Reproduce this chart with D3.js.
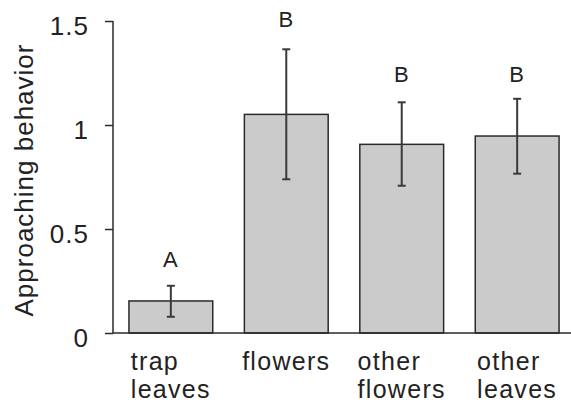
<!DOCTYPE html>
<html>
<head>
<meta charset="utf-8">
<script src="https://cdn.jsdelivr.net/npm/d3@7"></script>
<style>
  body { margin: 0; background: #fff; }
  text { font-family: "Liberation Sans", Arial, Helvetica, sans-serif; fill: #222; }
</style>
</head>
<body>
<div id="chart"></div>
<script>
'use strict';

// Data
let categories = [['trap', 'leaves'], ['flowers'], ['other', 'flowers'], ['other', 'leaves']];
let means = [0.154, 1.051, 0.907, 0.947];
let errLow = [0.078, 0.739, 0.708, 0.766];
let errHigh = [0.227, 1.364, 1.109, 1.126];
let sigLetters = ['A', 'B', 'B', 'B'];
let sigLevels = [0.317, 1.473, 1.207, 1.207];
let yTicks = [0, 0.5, 1, 1.5];
let yTitle = 'Approaching behavior';

// Formatting
let width = 571;
let height = 408;
let axisX = 113;
let barFill = '#cbcbcb';
let inkColor = '#2a2a2a';
let capHalf = 4;

let svg = d3.select('#chart').append('svg')
  .attr('width', width)
  .attr('height', height);

let idx = d3.range(categories.length);

let xScale = d3.scaleBand()
  .domain(idx)
  .range([axisX, 575])
  .paddingInner(0.274)
  .paddingOuter(0.138);

let yScale = d3.scaleLinear()
  .domain([0, 1.5])
  .range([333, 21]);

// Bars
svg.selectAll('rect.bar')
  .data(idx)
  .enter()
  .append('rect')
  .attr('class', 'bar')
  .attr('x', (i) => xScale(i))
  .attr('y', (i) => yScale(means[i]))
  .attr('width', xScale.bandwidth())
  .attr('height', (i) => yScale(0) - yScale(means[i]))
  .style('fill', barFill)
  .style('stroke', inkColor)
  .style('stroke-width', 1.5);

// Error bars
let cx = (i) => xScale(i) + xScale.bandwidth() / 2;
let errs = svg.append('g').attr('class', 'errors')
  .style('stroke', '#3a3a3a')
  .style('stroke-width', 2);

errs.selectAll('line.stem')
  .data(idx).enter().append('line')
  .attr('x1', cx).attr('x2', cx)
  .attr('y1', (i) => yScale(errLow[i]))
  .attr('y2', (i) => yScale(errHigh[i]));

errs.selectAll('line.capTop')
  .data(idx).enter().append('line')
  .attr('x1', (i) => cx(i) - capHalf).attr('x2', (i) => cx(i) + capHalf)
  .attr('y1', (i) => yScale(errHigh[i]))
  .attr('y2', (i) => yScale(errHigh[i]));

errs.selectAll('line.capBottom')
  .data(idx).enter().append('line')
  .attr('x1', (i) => cx(i) - capHalf).attr('x2', (i) => cx(i) + capHalf)
  .attr('y1', (i) => yScale(errLow[i]))
  .attr('y2', (i) => yScale(errLow[i]));

// Significance letters
svg.selectAll('text.sig')
  .data(idx).enter().append('text')
  .attr('class', 'sig')
  .attr('x', cx)
  .attr('y', (i) => yScale(sigLevels[i]))
  .attr('text-anchor', 'middle')
  .style('font-size', '22px')
  .style('letter-spacing', '1px')
  .text((i) => sigLetters[i]);

// Y axis
let yAxis = d3.axisLeft(yScale)
  .tickValues(yTicks)
  .tickFormat((d) => d3.format('')(d))
  .tickSize(8)
  .tickPadding(16);

let yAxisG = svg.append('g')
  .attr('transform', `translate(${axisX},0)`)
  .call(yAxis);

yAxisG.select('.domain').remove();
yAxisG.append('line')
  .attr('x1', 0).attr('x2', 0)
  .attr('y1', yScale(1.5)).attr('y2', yScale(0))
  .style('stroke', inkColor).style('stroke-width', 1.5);
yAxisG.selectAll('.tick line').style('stroke', inkColor).style('stroke-width', 1.5);
yAxisG.selectAll('.tick text')
  .attr('dy', '0.5em')
  .style('font-size', '26px')
  .style('letter-spacing', '1px')
  .style('font-family', '"Liberation Sans", Arial, sans-serif')
  .style('fill', '#222');

// X baseline
svg.append('line')
  .attr('x1', axisX).attr('x2', width)
  .attr('y1', yScale(0)).attr('y2', yScale(0))
  .style('stroke', inkColor).style('stroke-width', 1.5);

// Category labels (left-aligned blocks, centred on widest line)
idx.forEach((i) => {
  let label = svg.append('text')
    .attr('y', yScale(0) + 37)
    .style('font-size', '25px')
    .style('letter-spacing', '1.3px');
  let spans = categories[i].map((s, k) => label.append('tspan')
    .attr('dy', k === 0 ? 0 : 28)
    .text(s));
  let maxW = d3.max(spans, (t) => t.node().getComputedTextLength());
  spans.forEach((t) => t.attr('x', cx(i) - maxW / 2));
});

// Y title
svg.append('text')
  .attr('transform', `translate(33,180) rotate(-90)`)
  .attr('text-anchor', 'middle')
  .style('font-size', '26px')
  .style('letter-spacing', '1px')
  .text(yTitle);
</script>
</body>
</html>
